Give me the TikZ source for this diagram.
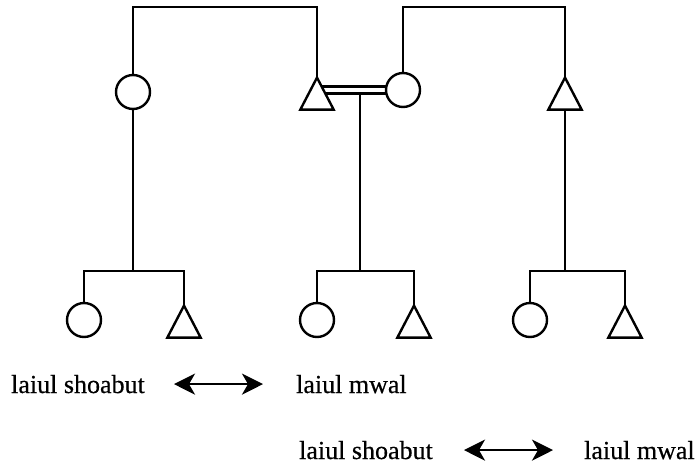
\documentclass[tikz,border=0pt]{standalone}
\usepackage{fontspec}
\setmainfont{Liberation Serif}
\newfontfamily\termfont{Liberation Serif}[FakeBold=0.5]
\usetikzlibrary{shapes.geometric,arrows.meta,backgrounds}
\begin{document}
\begin{tikzpicture}[x=1pt,y=-1pt,line width=2.4pt,
  fem/.style={circle,draw,fill=white,minimum size=34pt,inner sep=0pt,line width=2.4pt},
  mal/.style={isosceles triangle,shape border rotate=90,
    isosceles triangle apex angle=55,draw,fill=white,line width=2.4pt,
    minimum width=32pt,minimum height=32pt,inner sep=0pt,anchor=apex},
  kin/.style={line width=2.4pt},
  term/.style={font=\termfont\fontsize{26}{30}\selectfont,inner sep=0pt,anchor=base west},
  marriage/.style={double,double distance=4.6pt,line width=2.3pt},
  swap/.style={{Stealth[length=21pt,width=21pt,inset=6pt]}-{Stealth[length=21pt,width=21pt,inset=6pt]},
    line width=2.4pt}]
\useasboundingbox (0,0) rectangle (700,468);

% senior generation
\node[fem] (lc) at (133,92) {};
\node[mal] (mt) at (317,75) {};
\node[fem] (mc) at (403,90) {};
\node[mal] (rt) at (565,75) {};

% children
\node[fem] (lkc) at (84,320) {};
\node[mal] (lkt) at (184,303) {};
\node[fem] (mkc) at (317,320) {};
\node[mal] (mkt) at (414,303) {};
\node[fem] (rkc) at (530,320) {};
\node[mal] (rkt) at (625,303) {};

% junction points
\coordinate (ceiling) at (0,7);
\coordinate (lbar) at (133,271);
\coordinate (mbar) at (360,271);
\coordinate (rbar) at (565,271);
\coordinate (mj) at (360,90);

\begin{scope}[on background layer,kin]
  % sibling links up to the roof lines
  \draw[kin] (lc.center) |- (mt.center |- ceiling) -- (mt.center);
  \draw[kin] (mc.center) |- (rt.center |- ceiling) -- (rt.center);
  % descent lines
  \draw[kin] (lc.center) -- (lbar);
  \draw[kin] (mj) -- (mbar);
  \draw[kin] (rt.center) -- (rbar);
  % marriage
  \draw[marriage] (mt.center |- mc.center) -- (mc.center);
  % sibling bars
  \draw[kin] (lkc.center) |- (lbar) -| (lkt.center);
  \draw[kin] (mkc.center) |- (mbar) -| (mkt.center);
  \draw[kin] (rkc.center) |- (rbar) -| (rkt.center);
\end{scope}

% terms
\node[term] (a1) at (10,393) {laiul shoabut};
\node[term] (b1) at (295,393) {laiul mwal};
\node[term] (a2) at (298,459) {laiul shoabut};
\node[term] (b2) at (583,459) {laiul mwal};
\draw[swap,shorten <=28pt,shorten >=32pt] (a1.east) -- (b1.west);
\draw[swap,shorten <=30pt,shorten >=30pt,yshift=-4pt] (a2.east) -- (b2.west);
\end{tikzpicture}
\end{document}
